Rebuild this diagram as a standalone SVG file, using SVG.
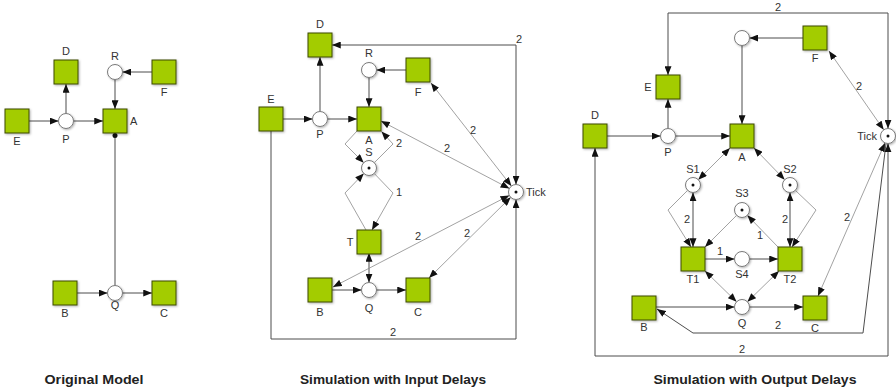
<svg xmlns="http://www.w3.org/2000/svg" width="896" height="391" viewBox="0 0 896 391">
<defs>
<marker id="ah" viewBox="0 0 10 8" refX="10" refY="4" markerWidth="9" markerHeight="7" markerUnits="userSpaceOnUse" orient="auto-start-reverse"><path d="M0,0L10,4L0,8z" fill="#111"/></marker>
<filter id="sh" x="-20%" y="-20%" width="150%" height="150%"><feDropShadow dx="1" dy="1" stdDeviation="0.8" flood-color="#000" flood-opacity="0.3"/></filter>
</defs>
<style>
.t{fill:#a3cc00;stroke:#3d4a00;stroke-width:1;filter:url(#sh)}
.p{fill:#fff;stroke:#7a7a7a;stroke-width:1;filter:url(#sh)}
.tok{fill:#111}
.l{font-family:"Liberation Sans",Arial,sans-serif;font-size:11px;fill:#333;text-anchor:middle}
.s{text-anchor:start}
.en{text-anchor:end}
.e{fill:none;stroke:#4d4d4d;stroke-width:1}
.d{fill:none;stroke:#8a8a8a;stroke-width:0.8}
.a{marker-end:url(#ah)}
.b{marker-start:url(#ah);marker-end:url(#ah)}
.cap{font-family:"Liberation Sans",Arial,sans-serif;font-size:12.5px;font-weight:bold;fill:#222;text-anchor:middle}
</style>
<rect width="896" height="391" fill="#fff"/>

<!-- ===== Original Model ===== -->
<g id="left-connectors">
<path class="e a" d="M29,121 L58.5,121"/>
<path class="e a" d="M73.5,121 L103,121"/>
<path class="e a" d="M66,113.5 L66,84"/>
<path class="e a" d="M152,72 L122.5,72"/>
<path class="e a" d="M115,79.5 L115,109"/>
<path class="e" d="M115,133 L115,285.5"/>
<circle cx="115" cy="135.5" r="2.5" class="tok"/>
<path class="e a" d="M77,293 L107.5,293"/>
<path class="e a" d="M122.5,293 L152,293"/>
</g>
<g id="l-D"><rect class="t" x="54" y="60" width="24" height="24"/><text class="l" x="66" y="55">D</text></g>
<g id="l-R"><circle class="p" cx="115" cy="72" r="7.5"/><text class="l" x="115" y="60">R</text></g>
<g id="l-F"><rect class="t" x="152" y="60" width="24" height="24"/><text class="l" x="164" y="96">F</text></g>
<g id="l-E"><rect class="t" x="5" y="109" width="24" height="24"/><text class="l" x="17" y="145">E</text></g>
<g id="l-P"><circle class="p" cx="66" cy="121" r="7.5"/><text class="l" x="66" y="143">P</text></g>
<g id="l-A"><rect class="t" x="103" y="109" width="24" height="24"/><text class="l s" x="130" y="125">A</text></g>
<g id="l-B"><rect class="t" x="53" y="281" width="24" height="24"/><text class="l" x="65" y="317">B</text></g>
<g id="l-Q"><circle class="p" cx="115" cy="293" r="7.5"/><text class="l" x="115" y="309">Q</text></g>
<g id="l-C"><rect class="t" x="152" y="281" width="24" height="24"/><text class="l" x="164" y="317">C</text></g>

<!-- ===== Input Delays ===== -->
<g id="mid-connectors">
<path class="e a" d="M283,119 L312.5,119"/>
<path class="e a" d="M327.5,119 L357,119"/>
<path class="e a" d="M320,111.5 L320,57"/>
<path class="e a" d="M406,70 L376.5,70"/>
<path class="e a" d="M369,77.5 L369,107"/>
<path class="e b" d="M332,45 L516,45 L516,184.5"/>
<text class="l" x="519" y="43">2</text>
<path class="d b" d="M431,83 L511.4,186.1"/>
<text class="l" x="473" y="134">2</text>
<path class="d b" d="M381,121 L509.4,188.5"/>
<text class="l" x="447" y="152">2</text>
<path class="d a" d="M357,131 L345,144 L363.7,162.7"/>
<path class="d a" d="M374.3,162.7 L393,144 L381.5,131.5"/>
<text class="l" x="399" y="147">2</text>
<path class="d a" d="M366,230 L345,193 L363.8,173.4"/>
<path class="d a" d="M374.2,173.4 L393,193 L372,230"/>
<text class="l" x="399" y="196">1</text>
<path class="e b" d="M369,253 L369,282.5"/>
<path class="e a" d="M332,290 L361.5,290"/>
<path class="e a" d="M376.5,290 L406,290"/>
<path class="d b" d="M509.3,195.4 L333,287"/>
<text class="l" x="418" y="240">2</text>
<path class="d b" d="M510.7,197.3 L429,278"/>
<text class="l" x="467" y="237">2</text>
<path class="e a" d="M271,131 L271,339 L516,339 L516,199.5"/>
<text class="l" x="393" y="336">2</text>
</g>
<g id="m-D"><rect class="t" x="308" y="33" width="24" height="24"/><text class="l" x="320" y="28">D</text></g>
<g id="m-R"><circle class="p" cx="369" cy="70" r="7.5"/><text class="l" x="369" y="57">R</text></g>
<g id="m-F"><rect class="t" x="406" y="58" width="24" height="24"/><text class="l" x="418" y="96">F</text></g>
<g id="m-E"><rect class="t" x="259" y="107" width="24" height="24"/><text class="l" x="271" y="103">E</text></g>
<g id="m-P"><circle class="p" cx="320" cy="119" r="7.5"/><text class="l" x="320" y="138">P</text></g>
<g id="m-A"><rect class="t" x="357" y="107" width="24" height="24"/><text class="l" x="369" y="144">A</text></g>
<g id="m-S"><circle class="p" cx="369" cy="168" r="7.5"/><circle class="tok" cx="369" cy="168" r="1.5"/><text class="l" x="369" y="156">S</text></g>
<g id="m-T"><rect class="t" x="357" y="230" width="24" height="24"/><text class="l" x="350" y="246">T</text></g>
<g id="m-Q"><circle class="p" cx="369" cy="290" r="7.5"/><text class="l" x="369" y="312">Q</text></g>
<g id="m-B"><rect class="t" x="308" y="278" width="24" height="24"/><text class="l" x="320" y="316">B</text></g>
<g id="m-C"><rect class="t" x="406" y="278" width="24" height="24"/><text class="l" x="418" y="316">C</text></g>
<g id="m-Tick"><circle class="p" cx="516" cy="192" r="7.5"/><circle class="tok" cx="516" cy="192" r="1.5"/><text class="l s" x="526" y="196">Tick</text></g>

<!-- ===== Output Delays ===== -->
<g id="right-connectors">
<path class="e b" d="M668,75 L668,13 L888,13 L888,128.5"/>
<text class="l" x="778" y="11">2</text>
<path class="e a" d="M803,38 L749.5,38"/>
<path class="e a" d="M742,45.5 L742,124"/>
<path class="e a" d="M607,136 L660.5,136"/>
<path class="e a" d="M675.5,136 L730,136"/>
<path class="e a" d="M668,128.5 L668,99"/>
<path class="d b" d="M829,51 L883.7,129.8"/>
<text class="l" x="859" y="90">2</text>
<path class="d b" d="M730,148 L698.3,179.7"/>
<path class="d b" d="M754,148 L784.7,179.7"/>
<path class="e b" d="M693,192.5 L693,247"/>
<text class="l" x="687" y="223">2</text>
<path class="d a" d="M687.7,190.3 L668,210 L691,247"/>
<path class="d a" d="M795.3,190.3 L816,210 L792,247"/>
<path class="e b" d="M790,192.5 L790,247"/>
<text class="l" x="785" y="223">2</text>
<path class="d a" d="M736.7,215.3 L705,247"/>
<path class="d a" d="M778,247 L747.3,215.3"/>
<text class="l" x="760" y="239">1</text>
<path class="e a" d="M705,259 L734.5,259"/>
<text class="l" x="720" y="255">1</text>
<path class="e a" d="M749.5,259 L778,259"/>
<path class="d b" d="M705,271 L736.6,301.8"/>
<path class="d b" d="M779,271 L747.4,301.8"/>
<path class="e a" d="M656,307 L734.5,307"/>
<path class="e a" d="M749.5,307 L803,307"/>
<path class="d b" d="M885,142.9 L818,296"/>
<text class="l" x="847" y="221">2</text>
<path class="e a" d="M886,143.5 L863,333 L693,333 L657,309"/>
<text class="l" x="778" y="329">2</text>
<path class="e b" d="M595,148 L595,356 L888,356 L888,143.5"/>
<text class="l" x="742" y="353">2</text>
</g>
<g id="r-E"><rect class="t" x="656" y="75" width="24" height="24"/><text class="l" x="648" y="91">E</text></g>
<g id="r-X"><circle class="p" cx="742" cy="38" r="7.5"/></g>
<g id="r-F"><rect class="t" x="803" y="26" width="24" height="24"/><text class="l" x="815" y="62">F</text></g>
<g id="r-D"><rect class="t" x="583" y="124" width="24" height="24"/><text class="l" x="595" y="119">D</text></g>
<g id="r-P"><circle class="p" cx="668" cy="136" r="7.5"/><text class="l" x="668" y="156">P</text></g>
<g id="r-A"><rect class="t" x="730" y="124" width="24" height="24"/><text class="l" x="742" y="161">A</text></g>
<g id="r-Tick"><circle class="p" cx="888" cy="136" r="7.5"/><circle class="tok" cx="888" cy="136" r="1.5"/><text class="l en" x="877" y="140">Tick</text></g>
<g id="r-S1"><circle class="p" cx="693" cy="185" r="7.5"/><circle class="tok" cx="693" cy="185" r="1.5"/><text class="l" x="693" y="173">S1</text></g>
<g id="r-S2"><circle class="p" cx="790" cy="185" r="7.5"/><circle class="tok" cx="790" cy="185" r="1.5"/><text class="l" x="790" y="173">S2</text></g>
<g id="r-S3"><circle class="p" cx="742" cy="210" r="7.5"/><circle class="tok" cx="742" cy="210" r="1.5"/><text class="l" x="742" y="197">S3</text></g>
<g id="r-T1"><rect class="t" x="681" y="247" width="24" height="24"/><text class="l" x="693" y="283">T1</text></g>
<g id="r-S4"><circle class="p" cx="742" cy="259" r="7.5"/><text class="l" x="742" y="278">S4</text></g>
<g id="r-T2"><rect class="t" x="778" y="247" width="24" height="24"/><text class="l" x="790" y="283">T2</text></g>
<g id="r-B"><rect class="t" x="632" y="296" width="24" height="24"/><text class="l" x="644" y="331">B</text></g>
<g id="r-Q"><circle class="p" cx="742" cy="307" r="7.5"/><text class="l" x="742" y="327">Q</text></g>
<g id="r-C"><rect class="t" x="803" y="296" width="24" height="24"/><text class="l" x="815" y="332">C</text></g>

<g id="captions">
<text class="cap" x="94" y="384" textLength="99" lengthAdjust="spacingAndGlyphs">Original Model</text>
<text class="cap" x="393" y="384" textLength="186" lengthAdjust="spacingAndGlyphs">Simulation with Input Delays</text>
<text class="cap" x="755" y="384" textLength="203" lengthAdjust="spacingAndGlyphs">Simulation with Output Delays</text>
</g>
</svg>
